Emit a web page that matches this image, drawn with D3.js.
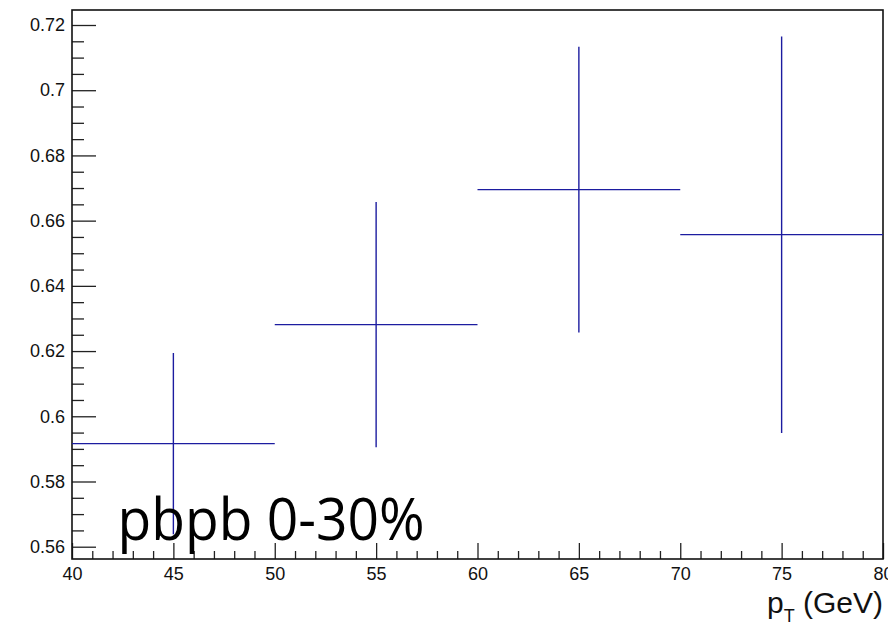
<!DOCTYPE html>
<html>
<head>
<meta charset="utf-8">
<script src="https://cdn.jsdelivr.net/npm/d3@7"></script>
<style>
  body { margin: 0; background: #fff; }
  svg { display: block; }
</style>
</head>
<body>
<div id="chart"></div>
<script>
// bin centres, half widths and values
const ptCenters = [45, 55, 65, 75];
const ptHalfWidths = [5, 5, 5, 5];
const ratioValues = [0.5916, 0.6281, 0.6695, 0.6557];
const ratioErrors = [0.0278, 0.0376, 0.0438, 0.0608];

const xMajorTicks = [40, 45, 50, 55, 60, 65, 70, 75, 80];
const xTickLabels = ["40", "45", "50", "55", "60", "65", "70", "75", "80"];
const yMajorTicks = [0.56, 0.58, 0.6, 0.62, 0.64, 0.66, 0.68, 0.7, 0.72];
const yTickLabels = ["0.56", "0.58", "0.6", "0.62", "0.64", "0.66", "0.68", "0.7", "0.72"];

const width = 888, height = 627;
const margin = { top: 10, right: 5, bottom: 68, left: 72 };
const w = width - margin.left - margin.right;
const h = height - margin.top - margin.bottom;

const svg = d3.select('#chart')
    .append('svg')
    .attr('width', width)
    .attr('height', height);

const g = svg.append('g')
    .attr('transform', `translate(${margin.left},${margin.top})`);

const x = d3.scaleLinear().domain([40, 80]).range([0, w]);
const y = d3.scaleLinear().domain([0.55623, 0.7246]).range([h, 0]);

const font = '"Liberation Sans", Arial, Helvetica, sans-serif';

// minor ticks
const xMinor = d3.range(41, 80, 1).filter(v => v % 5 !== 0);
const yMinor = d3.range(0, 33).map(i => 0.56 + i * 0.005)
    .filter((v, i) => i % 4 !== 0 && y(v) >= 0);

g.append('g')
    .attr('transform', `translate(0,${h})`)
    .call(d3.axisBottom(x).tickValues(xMinor).tickSize(-8).tickFormat(''))
    .call(a => a.select('.domain').remove())
    .selectAll('line').attr('stroke', '#222').attr('stroke-width', 1.3);

g.append('g')
    .call(d3.axisLeft(y).tickValues(yMinor).tickSize(-12).tickFormat(''))
    .call(a => a.select('.domain').remove())
    .selectAll('line').attr('stroke', '#222').attr('stroke-width', 1.3);

// major ticks with labels
const xAxis = g.append('g')
    .attr('transform', `translate(0,${h})`)
    .call(d3.axisBottom(x).tickValues(xMajorTicks).tickSize(-16).tickPadding(8)
        .tickFormat((d, i) => xTickLabels[i]));
xAxis.select('.domain').remove();
xAxis.selectAll('line').attr('stroke', '#222').attr('stroke-width', 1.3);
xAxis.selectAll('text')
    .attr('font-family', font).attr('font-size', 18).attr('fill', '#111');

const yAxis = g.append('g')
    .call(d3.axisLeft(y).tickValues(yMajorTicks).tickSize(-24).tickPadding(7)
        .tickFormat((d, i) => yTickLabels[i]));
yAxis.select('.domain').remove();
yAxis.selectAll('line').attr('stroke', '#222').attr('stroke-width', 1.3);
yAxis.selectAll('text')
    .attr('font-family', font).attr('font-size', 18).attr('fill', '#111');

// frame
g.append('rect')
    .attr('x', 0).attr('y', 0)
    .attr('width', w).attr('height', h)
    .attr('fill', 'none')
    .attr('stroke', '#111')
    .attr('stroke-width', 1.6);

// error crosses
const data = ptCenters.map((c, i) => ({
    x: c, dx: ptHalfWidths[i], v: ratioValues[i], e: ratioErrors[i],
}));

const marks = g.append('g').attr('stroke', '#1c1ca0').attr('stroke-width', 1.4);

marks.selectAll('.hbar')
    .data(data)
    .enter()
    .append('line')
    .attr('class', 'hbar')
    .attr('x1', d => x(d.x - d.dx))
    .attr('x2', d => x(d.x + d.dx))
    .attr('y1', d => y(d.v))
    .attr('y2', d => y(d.v));

marks.selectAll('.vbar')
    .data(data)
    .enter()
    .append('line')
    .attr('class', 'vbar')
    .attr('x1', d => x(d.x))
    .attr('x2', d => x(d.x))
    .attr('y1', d => y(d.v + d.e))
    .attr('y2', d => y(d.v - d.e));

// label on the plot
g.append('text')
    .attr('x', x(42.25))
    .attr('y', h - 19)
    .attr('font-family', '"Open Sans", "Noto Sans", sans-serif')
    .attr('font-size', 58)
    .attr('textLength', 307)
    .attr('lengthAdjust', 'spacingAndGlyphs')
    .attr('fill', '#000')
    .text('pbpb 0-30%');

// axis title
const title = svg.append('text')
    .attr('x', margin.left + w)
    .attr('y', 613)
    .attr('text-anchor', 'end')
    .attr('font-family', font)
    .attr('font-size', 30)
    .attr('fill', '#111');
title.append('tspan').text('p');
title.append('tspan').attr('font-size', 18).attr('dy', 9).text('T');
title.append('tspan').attr('dy', -9).text(' (GeV)');
</script>
</body>
</html>
